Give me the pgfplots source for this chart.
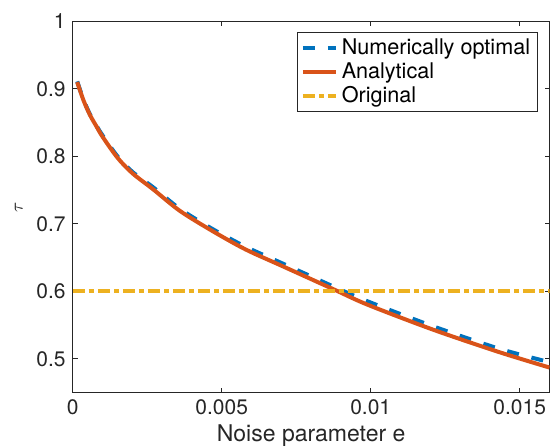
\documentclass[border=0pt]{standalone}
\usepackage{fontspec}
\setmainfont{TeX Gyre Heros}
\usepackage{pgfplots}
\pgfplotsset{compat=1.18}

\definecolor{mblue}{rgb}{0,0.447,0.741}
\definecolor{morange}{rgb}{0.85,0.325,0.098}
\definecolor{myellow}{rgb}{0.929,0.694,0.125}
\definecolor{axgray}{rgb}{0.15,0.15,0.15}

\begin{document}
\begin{tikzpicture}
\begin{axis}[
name=ax,
scale only axis,
width=238.25pt, height=185.5pt,
xmin=0, xmax=0.016,
ymin=0.45, ymax=1,
xtick={0,0.005,0.01,0.015},
xticklabels={0,0.005,0.01,0.015},
ytick={0.5,0.6,0.7,0.8,0.9,1},
yticklabels={0.5,0.6,0.7,0.8,0.9,1},
scaled x ticks=false,
tick align=inside,
tick pos=both,
major tick length=2.5pt,
axis line style={axgray, line width=0.5pt},
tick style={axgray, line width=0.5pt},
tick label style={font=\fontsize{10.5}{12}\selectfont, text=axgray},
xlabel={Noise parameter e},
ylabel={$\tau$},
xlabel style={font=\fontsize{11.5}{13}\selectfont, text=axgray, yshift=2pt},
ylabel style={font=\fontsize{9}{10}\selectfont, text=axgray},
legend style={at={(0.975,0.970)}, anchor=north east, draw=axgray, line width=0.5pt,
  font=\fontsize{10.8}{12}\selectfont, inner xsep=1.5pt, inner ysep=1pt, row sep=-1.5pt},
legend cell align=left,
legend image code/.code={\draw[#1] (0pt,0pt) -- (16.5pt,0pt);},
]

% Numerically optimal
\addplot[mblue, line width=2pt, dash pattern=on 6pt off 6.5pt, smooth] coordinates {
(0.00015,0.911) (0.00036,0.884) (0.00058,0.862) (0.0008,0.845) (0.001,0.831)
(0.0015,0.800) (0.002,0.777) (0.0027,0.754) (0.0036,0.722) (0.0047,0.692)
(0.0058,0.666) (0.007,0.642) (0.008,0.622) (0.0088,0.606) (0.0099,0.585)
(0.0121,0.548) (0.0143,0.515) (0.016,0.495)
};
\addlegendentry{Numerically optimal}

% Analytical
\addplot[morange, line width=2pt, smooth] coordinates {
(0.00015,0.910) (0.00036,0.883) (0.00058,0.861) (0.0008,0.844) (0.001,0.829)
(0.0015,0.798) (0.002,0.775) (0.0027,0.751) (0.0036,0.719) (0.0047,0.689)
(0.0058,0.662) (0.007,0.638) (0.008,0.618) (0.0088,0.602) (0.0099,0.580)
(0.0121,0.543) (0.0143,0.510) (0.016,0.487)
};
\addlegendentry{Analytical}

% Original
\addplot[myellow, line width=2pt, dash pattern=on 6pt off 2pt on 2.5pt off 2pt] coordinates {
(0,0.6) (0.016,0.6)
};
\addlegendentry{Original}

\end{axis}
\pgfresetboundingbox
\path ([shift={(-36.35pt,-27.5pt)}]ax.south west) rectangle ([shift={(5.25pt,10.65pt)}]ax.north east);
\end{tikzpicture}
\end{document}
